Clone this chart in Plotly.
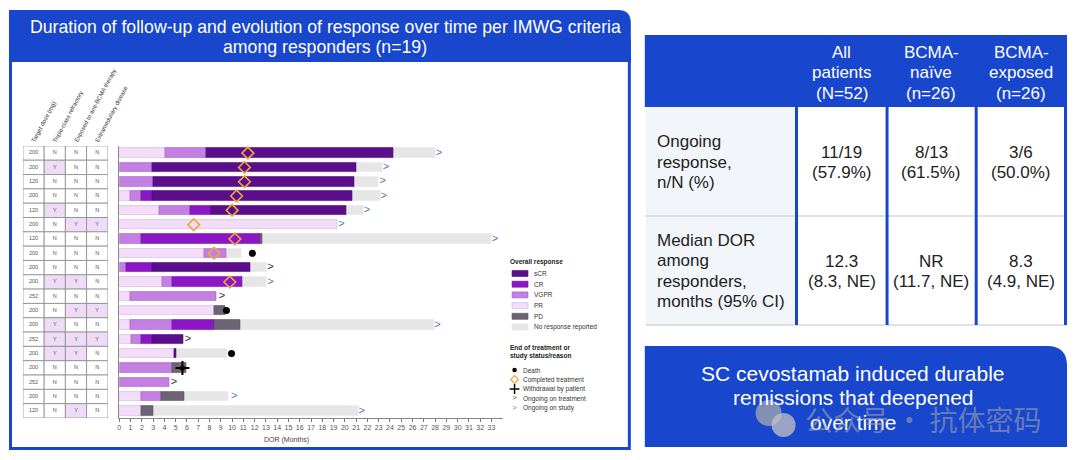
import plotly.graph_objects as go

W, H = 1080, 460

# ---------------- data ----------------
rows = list(range(1, 20))
target_dose = ["200", "200", "120", "200", "120", "200", "120", "200", "200", "200",
               "252", "200", "200", "252", "200", "200", "252", "200", "120"]
triple_class_refractory = ["N", "Y", "N", "N", "Y", "N", "N", "N", "N", "Y",
                           "N", "N", "Y", "Y", "Y", "N", "N", "N", "N"]
anti_bcma_exposed = ["N", "N", "N", "N", "N", "Y", "N", "N", "N", "Y",
                     "N", "Y", "N", "Y", "Y", "N", "N", "N", "Y"]
extramedullary = ["N", "N", "N", "N", "N", "Y", "N", "N", "N", "N",
                  "N", "Y", "N", "Y", "N", "N", "N", "N", "N"]
col_headers = ["Target dose (mg)", "Triple-class refractory",
               "Exposed to anti-BCMA therapy", "Extramedullary disease"]

scr_row = [1, 2, 3, 4, 5, 9, 14, 15]
scr_start = [7.7, 2.9, 3.05, 2.9, 8.2, 2.9, 2.9, 4.9]
scr_end = [24.3, 21.0, 20.8, 20.7, 20.1, 11.6, 5.7, 5.05]

cr_row = [4, 5, 7, 9, 10, 13, 14]
cr_start = [1.93, 6.3, 1.93, 0.58, 4.7, 4.7, 1.93]
cr_end = [2.9, 8.2, 12.5, 2.9, 10.9, 8.4, 2.9]

vgpr_row = [1, 2, 3, 4, 5, 7, 8, 9, 10, 11, 13, 14, 16, 17, 18]
vgpr_start = [4.05, 0, 0, 0.96, 3.56, 0, 7.5, 0, 3.8, 0.96, 0.96, 1.05, 0, 0, 1.93]
vgpr_end = [7.7, 2.9, 3.05, 1.93, 6.3, 1.93, 9.45, 0.58, 4.7, 8.6, 4.7, 1.93, 4.7, 4.45, 3.76]

pr_row = [1, 4, 5, 6, 8, 10, 11, 12, 13, 14, 15, 18, 19]
pr_start = [0, 0, 0, 0, 0, 0, 0, 0, 0, 0, 0, 0, 0]
pr_end = [4.05, 0.96, 3.56, 19.3, 7.5, 3.8, 0.96, 8.4, 0.96, 1.05, 4.9, 1.93, 1.93]

pd_row = [7, 12, 13, 16, 18, 19]
pd_start = [12.5, 8.4, 8.4, 4.7, 3.76, 1.93]
pd_end = [12.65, 9.4, 10.7, 5.9, 5.8, 3.0]

nr_row = [1, 2, 3, 4, 5, 7, 8, 9, 10, 13, 15, 18, 19]
nr_start = [24.3, 21.0, 20.8, 20.7, 20.1, 12.65, 9.45, 11.6, 10.9, 10.7, 5.05, 5.8, 3.0]
nr_end = [28.0, 23.3, 23.0, 23.1, 21.6, 33.0, 10.8, 13.05, 13.0, 27.9, 9.6, 9.7, 21.2]

death_row = [8, 12, 15]
death_x = [11.8, 9.5, 9.95]
completed_row = [1, 2, 3, 4, 5, 6, 7, 8, 10]
completed_x = [11.4, 11.1, 11.1, 10.4, 10.0, 6.6, 10.25, 8.4, 9.8]
withdrawal_row = [16]
withdrawal_x = [5.6]
on_treatment_row = [9, 11, 14, 17]
on_treatment_x = [13.4, 9.1, 6.1, 4.85]
on_study_row = [1, 2, 3, 4, 5, 6, 7, 10, 13, 18, 19]
on_study_x = [28.35, 23.65, 23.35, 23.45, 21.95, 19.7, 33.3, 13.4, 28.2, 10.2, 21.5]

x_ticks = list(range(0, 34))

# right-hand summary table
tbl_headers = [["All", "patients", "(N=52)"], ["BCMA-", "naïve", "(n=26)"], ["BCMA-", "exposed", "(n=26)"]]
tbl_row_labels = [["Ongoing", "response,", "n/N (%)"], ["Median DOR", "among", "responders,", "months (95% CI)"]]
tbl_values = [
    [["11/19", "(57.9%)"], ["8/13", "(61.5%)"], ["3/6", "(50.0%)"]],
    [["12.3", "(8.3, NE)"], ["NR", "(11.7, NE)"], ["8.3", "(4.9, NE)"]],
]
box_lines = ["SC cevostamab induced durable", "remissions that deepened", "over time"]
title_lines = ["Duration of follow-up and evolution of response over time per IMWG criteria",
               "among responders (n=19)"]

# ---------------- styles ----------------
BLUE = "#1846CC"
FONT = "Liberation Sans, Arial, sans-serif"
resp_colors = {"sCR": "#5B0E8B", "CR": "#8B16C6", "VGPR": "#C47FE3", "PR": "#F3DDF9",
               "PD": "#6C6474", "No response reported": "#E6E6E6"}
resp_lines = {"sCR": "#4A0A72", "CR": "#7210A4", "VGPR": "#A462C4", "PR": "#D2AEE0",
              "PD": "#55505A", "No response reported": "#E6E6E6"}
STUDY_BLUE = "#5A78B4"


def px(x):
    return x / W


def py(y):
    return 1 - y / H


fig = go.Figure()

# ---------------- swimmer bars ----------------
segments = [("No response reported", nr_row, nr_start, nr_end),
            ("PR", pr_row, pr_start, pr_end),
            ("VGPR", vgpr_row, vgpr_start, vgpr_end),
            ("CR", cr_row, cr_start, cr_end),
            ("sCR", scr_row, scr_start, scr_end),
            ("PD", pd_row, pd_start, pd_end)]
for name, rr, ss, ee in segments:
    fig.add_trace(go.Bar(
        y=rr, x=[e - s for s, e in zip(ss, ee)], base=ss, orientation="h", width=0.66,
        marker=dict(color=resp_colors[name], line=dict(color=resp_lines[name], width=0.6)),
        xaxis="x", yaxis="y", showlegend=False, hoverinfo="skip"))

fig.add_trace(go.Scatter(x=completed_x, y=completed_row, mode="markers", xaxis="x", yaxis="y",
                         marker=dict(symbol="diamond-open", size=9, color="#EFA63A", line=dict(width=1.6)),
                         showlegend=False, hoverinfo="skip"))
fig.add_trace(go.Scatter(x=death_x, y=death_row, mode="markers", xaxis="x", yaxis="y",
                         marker=dict(symbol="circle", size=7, color="black"),
                         showlegend=False, hoverinfo="skip"))
fig.add_trace(go.Scatter(x=withdrawal_x, y=withdrawal_row, mode="markers", xaxis="x", yaxis="y",
                         marker=dict(symbol="cross-thin-open", size=10, color="black", line=dict(width=2)),
                         showlegend=False, hoverinfo="skip"))
fig.add_trace(go.Scatter(x=withdrawal_x, y=withdrawal_row, mode="markers", xaxis="x", yaxis="y",
                         marker=dict(symbol="circle", size=5, color="black"),
                         showlegend=False, hoverinfo="skip"))
fig.add_trace(go.Scatter(x=on_treatment_x, y=on_treatment_row, mode="text", text=[">"] * len(on_treatment_x),
                         textfont=dict(family=FONT, size=11, color="#333333"), xaxis="x", yaxis="y",
                         showlegend=False, hoverinfo="skip"))
fig.add_trace(go.Scatter(x=on_study_x, y=on_study_row, mode="text", text=[">"] * len(on_study_x),
                         textfont=dict(family=FONT, size=11, color=STUDY_BLUE), xaxis="x", yaxis="y",
                         showlegend=False, hoverinfo="skip"))

# ---------------- patient characteristics table ----------------
table_cols = [target_dose, triple_class_refractory, anti_bcma_exposed, extramedullary]
shapes = []
tx, ty, tt = [], [], []
for c, col in enumerate(table_cols):
    for r, val in zip(rows, col):
        shapes.append(dict(type="rect", xref="x2", yref="y", x0=c, x1=c + 1, y0=r - 0.5, y1=r + 0.5,
                           line=dict(color="#8A8A8A", width=0.8),
                           fillcolor="#EEDCF7" if val == "Y" else "white", layer="below"))
        tx.append(c + 0.5)
        ty.append(r)
        tt.append(val)
fig.add_trace(go.Scatter(x=tx, y=ty, text=tt, mode="text", xaxis="x2", yaxis="y",
                         textfont=dict(family=FONT, size=5.5, color="#555555"),
                         showlegend=False, hoverinfo="skip"))

annotations = []
for c, head in enumerate(col_headers):
    annotations.append(dict(xref="x2", yref="y", x=c + 0.22, y=0.5, text=head, showarrow=False,
                            textangle=-62, xanchor="left", yanchor="bottom",
                            font=dict(family=FONT, size=6, color="#333333")))

# ---------------- legend ----------------
legend_resp = ["sCR", "CR", "VGPR", "PR", "PD", "No response reported"]
leg_y0, leg_dy = 273.5, 10.7
for i, name in enumerate(legend_resp):
    yy = leg_y0 + i * leg_dy
    shapes.append(dict(type="rect", xref="paper", yref="paper", x0=px(511), x1=px(527),
                       y0=py(yy + 3), y1=py(yy - 3), fillcolor=resp_colors[name],
                       line=dict(color=resp_lines[name], width=0.6), layer="above"))
    annotations.append(dict(xref="paper", yref="paper", x=px(531), y=py(yy), text=name, showarrow=False,
                            xanchor="left", yanchor="middle", font=dict(family=FONT, size=6.5, color="#333333")))
annotations.append(dict(xref="paper", yref="paper", x=px(507), y=py(262), text="<b>Overall response</b>",
                        showarrow=False, xanchor="left", yanchor="middle",
                        font=dict(family=FONT, size=6.5, color="#222222")))
annotations.append(dict(xref="paper", yref="paper", x=px(507), y=py(347), text="<b>End of treatment or</b>",
                        showarrow=False, xanchor="left", yanchor="middle",
                        font=dict(family=FONT, size=6.5, color="#222222")))
annotations.append(dict(xref="paper", yref="paper", x=px(507), y=py(356), text="<b>study status/reason</b>",
                        showarrow=False, xanchor="left", yanchor="middle",
                        font=dict(family=FONT, size=6.5, color="#222222")))
status_labels = ["Death", "Completed treatment", "Withdrawal by patient", "Ongoing on treatment", "Ongoing on study"]
status_y = [370, 379.5, 389, 398.5, 408]
for lab, yy in zip(status_labels, status_y):
    annotations.append(dict(xref="paper", yref="paper", x=px(520), y=py(yy), text=lab, showarrow=False,
                            xanchor="left", yanchor="middle", font=dict(family=FONT, size=6.5, color="#333333")))
fig.add_trace(go.Scatter(x=[513.5], y=[status_y[0]], mode="markers", xaxis="x3", yaxis="y3",
                         marker=dict(symbol="circle", size=4.5, color="black"), showlegend=False, hoverinfo="skip"))
fig.add_trace(go.Scatter(x=[513.5], y=[status_y[1]], mode="markers", xaxis="x3", yaxis="y3",
                         marker=dict(symbol="diamond-open", size=6, color="#EFA63A", line=dict(width=1.2)),
                         showlegend=False, hoverinfo="skip"))
fig.add_trace(go.Scatter(x=[513.5], y=[status_y[2]], mode="markers", xaxis="x3", yaxis="y3",
                         marker=dict(symbol="cross-thin-open", size=7, color="black", line=dict(width=1.5)),
                         showlegend=False, hoverinfo="skip"))
fig.add_trace(go.Scatter(x=[513.5], y=[status_y[3]], mode="text", text=[">"], xaxis="x3", yaxis="y3",
                         textfont=dict(family=FONT, size=7, color="#333333"), showlegend=False, hoverinfo="skip"))
fig.add_trace(go.Scatter(x=[513.5], y=[status_y[4]], mode="text", text=[">"], xaxis="x3", yaxis="y3",
                         textfont=dict(family=FONT, size=7, color=STUDY_BLUE), showlegend=False, hoverinfo="skip"))

# ---------------- panels / backgrounds ----------------
def rounded_box(x0, y0, x1, y1, r):
    return ("M {a},{b} L {a},{c} L {d},{c} Q {e},{c} {e},{f} L {e},{b} Z"
            .format(a=px(x0), b=py(y1), c=py(y0), d=px(x1 - r), e=px(x1), f=py(y0 + r)))

bg_shapes = []
bg_shapes.append(dict(type="rect", xref="paper", yref="paper", x0=px(8.5), x1=px(628.5), y0=py(448.5), y1=py(40),
                      line=dict(color=BLUE, width=3), fillcolor="white", layer="below"))
bg_shapes.append(dict(type="path", xref="paper", yref="paper", path=rounded_box(7, 10, 630, 62, 13),
                      fillcolor=BLUE, line=dict(width=0), layer="below"))
bg_shapes.append(dict(type="rect", xref="paper", yref="paper", x0=px(644), x1=px(1067), y0=py(107), y1=py(35),
                      fillcolor=BLUE, line=dict(width=0), layer="below"))
bg_shapes.append(dict(type="rect", xref="paper", yref="paper", x0=px(645), x1=px(796), y0=py(325), y1=py(107),
                      fillcolor="#F2F6FB", line=dict(width=0), layer="below"))
for yy in [216, 325]:
    bg_shapes.append(dict(type="line", xref="paper", yref="paper", x0=px(645), x1=px(1067), y0=py(yy), y1=py(yy),
                          line=dict(color="#D3D7DD", width=1.5), layer="below"))
for xx in [796, 886.7, 976, 1065.5]:
    bg_shapes.append(dict(type="line", xref="paper", yref="paper", x0=px(xx), x1=px(xx), y0=py(107), y1=py(325),
                          line=dict(color=BLUE, width=3), layer="below"))
bg_shapes.append(dict(type="path", xref="paper", yref="paper", path=rounded_box(644, 346, 1067, 447, 20),
                      fillcolor=BLUE, line=dict(width=0), layer="below"))
# watermark icon
bg_shapes.append(dict(type="circle", xref="paper", yref="paper", x0=px(755), x1=px(781), y0=py(426), y1=py(400),
                      fillcolor="rgba(175,175,175,0.7)", line=dict(width=0), layer="above"))
bg_shapes.append(dict(type="circle", xref="paper", yref="paper", x0=px(771), x1=px(795), y0=py(437), y1=py(413),
                      fillcolor="rgba(195,195,195,0.75)", line=dict(width=0), layer="above"))

# ---------------- text ----------------
for i, line in enumerate(title_lines):
    annotations.append(dict(xref="paper", yref="paper", x=px(324), y=py(27 + i * 20), text=line, showarrow=False,
                            xanchor="center", yanchor="middle", font=dict(family=FONT, size=17.7, color="white")))
annotations.append(dict(xref="paper", yref="paper", x=px(285), y=py(440), text="DOR (Months)", showarrow=False,
                        xanchor="center", yanchor="middle", font=dict(family=FONT, size=7, color="#444444")))

col_centers = [841.5, 931, 1021]
for cx, lines in zip(col_centers, tbl_headers):
    for i, line in enumerate(lines):
        annotations.append(dict(xref="paper", yref="paper", x=px(cx), y=py(52.7 + i * 20.3), text=line,
                                showarrow=False, xanchor="center", yanchor="middle",
                                font=dict(family=FONT, size=17, color="white")))
label_top = [141.7, 240]
value_top = [152.7, 261.7]
for r in range(2):
    for i, line in enumerate(tbl_row_labels[r]):
        annotations.append(dict(xref="paper", yref="paper", x=px(654), y=py(label_top[r] + i * 20.6), text=line,
                                showarrow=False, xanchor="left", yanchor="middle",
                                font=dict(family=FONT, size=17, color="#222222")))
    for cx, vals in zip(col_centers, tbl_values[r]):
        for i, line in enumerate(vals):
            annotations.append(dict(xref="paper", yref="paper", x=px(cx), y=py(value_top[r] + i * 20), text=line,
                                    showarrow=False, xanchor="center", yanchor="middle",
                                    font=dict(family=FONT, size=17, color="#222222")))
for i, line in enumerate(box_lines):
    annotations.append(dict(xref="paper", yref="paper", x=px(853), y=py(373 + i * 24.5), text=line,
                            showarrow=False, xanchor="center", yanchor="middle",
                            font=dict(family=FONT, size=21, color="white")))
annotations.append(dict(xref="paper", yref="paper", x=px(923), y=py(419), text="公众号 · 抗体密码",
                        showarrow=False, xanchor="center", yanchor="middle", opacity=0.55,
                        font=dict(family="Noto Sans CJK SC", size=28, color="#A8A8A8")))

# ---------------- layout ----------------
fig.update_layout(
    width=W, height=H, margin=dict(l=0, r=0, t=0, b=0),
    paper_bgcolor="white", plot_bgcolor="rgba(0,0,0,0)",
    barmode="overlay", bargap=0,
    xaxis=dict(domain=[px(117.5), px(117.5 + 34 * 11.3)], range=[0, 34], anchor="y",
               tickvals=x_ticks, ticktext=[str(t) for t in x_ticks], ticks="outside", ticklen=3,
               tickcolor="#777777", tickfont=dict(family=FONT, size=7, color="#555555"),
               showline=True, linecolor="#888888", linewidth=1, showgrid=False, zeroline=False, fixedrange=True),
    yaxis=dict(domain=[py(418), py(145.9)], range=[19.5, 0.5], anchor="x",
               showticklabels=False, ticks="", showline=True, linecolor="#888888", linewidth=1,
               showgrid=False, zeroline=False, fixedrange=True),
    xaxis2=dict(domain=[px(21), px(106)], range=[0, 4], anchor="y", visible=False, fixedrange=True),
    xaxis3=dict(domain=[0, 1], range=[0, W], anchor="y3", visible=False, fixedrange=True),
    yaxis3=dict(domain=[0, 1], range=[H, 0], anchor="x3", visible=False, fixedrange=True),
    shapes=bg_shapes + shapes,
    annotations=annotations,
    showlegend=False,
)

fig.write_html("out.html")
